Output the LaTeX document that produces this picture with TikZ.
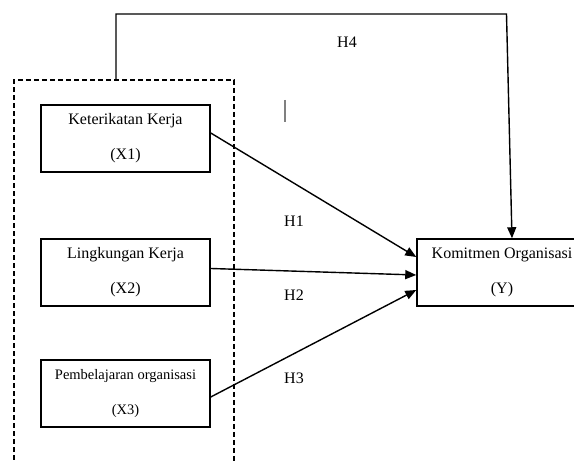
\documentclass[tikz,border=0pt]{standalone}
\usepackage{fontspec}
\setmainfont{Liberation Serif}
\usetikzlibrary{arrows.meta}
\begin{document}
\begin{tikzpicture}[x=1pt,y=1pt,
  varbox/.style={draw,line width=1.5pt,minimum width=169pt,minimum height=67pt,inner sep=0pt,align=center,font=\fontsize{16}{35}\selectfont},
  smallbox/.style={varbox,font=\fontsize{14.5}{35}\selectfont},
  conn/.style={line width=1.4pt,-{Triangle[length=11pt,width=9pt]}},
  group/.style={line width=1.5pt,dash pattern=on 5pt off 3pt},
  hlab/.style={font=\fontsize{16}{19}\selectfont,inner sep=0pt}]
\useasboundingbox (0,0) rectangle (574,462);
% dashed group (open at bottom)
\coordinate (gbl) at (14,-6);
\coordinate (gtl) at (14,382);
\coordinate (gtr) at (234,382);
\coordinate (gbr) at (234,-6);
\draw[group] (gbl) -- (gtl) -- (gtr) -- (gbr);
% boxes
\node[varbox] (X1) at (125.5,323.5) {Keterikatan Kerja\\(X1)};
\node[varbox] (X2) at (125.5,189.5) {Lingkungan Kerja\\(X2)};
\node[smallbox] (X3) at (125.5,68.5) {Pembelajaran organisasi\\(X3)};
\node[varbox,minimum width=170pt] (Y) at (502,189.5) {Komitmen Organisasi\\(Y)};
% connectors
\draw[conn] ([yshift=5.5pt]X1.east) -- ([yshift=15.5pt]Y.west);
\draw[conn] ([yshift=4pt]X2.east) -- ([yshift=-2.5pt]Y.west);
\draw[conn] ([yshift=-3.5pt]X3.east) -- ([yshift=-17.5pt]Y.west);
% H4 path
\coordinate (h4a) at (116,382);
\coordinate (h4b) at (116,448);
\coordinate (h4c) at (506.5,448);
\draw[conn] (h4a) -- (h4b) -- (h4c) -- ([xshift=10pt]Y.north);
% labels
\node[hlab] (H4) at (347,420) {H4};
\node[hlab] (H1) at (294,241) {H1};
\node[hlab] (H2) at (294,167) {H2};
\node[hlab] (H3) at (294,84) {H3};
% stray cursor mark
\coordinate (cma) at (285,362);
\coordinate (cmb) at (285,340);
\draw[gray,line width=1.2pt] (cma) -- (cmb);
\end{tikzpicture}
\end{document}
